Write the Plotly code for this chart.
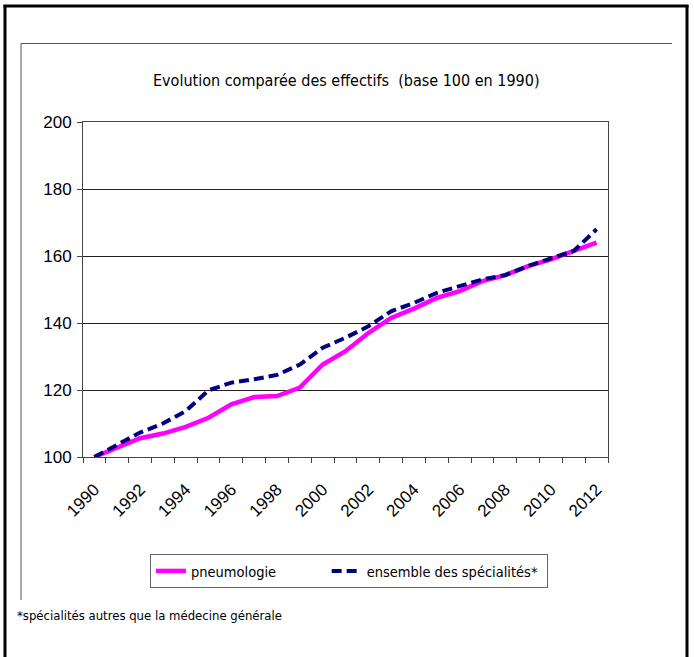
import plotly.graph_objects as go

# Index values, base 100 in 1990
years = list(range(1990, 2013))
pneumologie = [100.0, 102.8, 105.6, 107.0, 109.0, 111.7, 115.7, 117.9, 118.2, 120.7,
               127.6, 131.6, 137.0, 141.5, 144.3, 147.5, 149.5, 152.5, 154.3, 157.0,
               159.0, 161.5, 164.0]
ensemble = [100.0, 103.8, 107.3, 110.0, 113.7, 119.9, 122.2, 123.2, 124.5, 127.6,
            132.6, 135.6, 139.0, 143.5, 146.0, 149.0, 151.0, 153.0, 154.3, 157.0,
            159.3, 161.5, 168.0]
label_years = [y for y in years if y % 2 == 0]
y_ticks = [100, 120, 140, 160, 180, 200]

W, H = 694, 657
ML, MR, MT, MB = 83, 86, 122, 200
PW, PH = W - ML - MR, H - MT - MB

NARROW = "DejaVu Sans Condensed, Liberation Sans, Arial, sans-serif"
REG = "Liberation Sans, Arial, sans-serif"


def px(x):
    return (x - ML) / PW


def py(y):
    return (H - MB - y) / PH


# trailing non-breaking spaces widen the gap between the two legend entries
GAP = "\u00a0" * 11

fig = go.Figure()
fig.add_trace(go.Scatter(
    x=years, y=pneumologie, mode="lines", name="pneumologie" + GAP,
    line=dict(color="#FF00FF", width=4.5),
))
fig.add_trace(go.Scatter(
    x=years, y=ensemble, mode="lines", name="ensemble des spécialités*\u00a0",
    line=dict(color="#000080", width=4, dash="10px,5px"),
))

shapes = [
    # outer frame (left, top, right)
    dict(type="line", xref="paper", yref="paper", x0=px(5), x1=px(5), y0=py(5), y1=py(H + 5),
         line=dict(color="black", width=3)),
    dict(type="line", xref="paper", yref="paper", x0=px(3.5), x1=px(688.5), y0=py(6), y1=py(6),
         line=dict(color="black", width=3)),
    dict(type="line", xref="paper", yref="paper", x0=px(687), x1=px(687), y0=py(5), y1=py(H + 5),
         line=dict(color="black", width=3)),
    # chart area frame (top, left)
    dict(type="line", xref="paper", yref="paper", x0=px(21), x1=px(672), y0=py(43.5), y1=py(43.5),
         line=dict(color="#555555", width=1)),
    dict(type="line", xref="paper", yref="paper", x0=px(21), x1=px(21), y0=py(43.5), y1=py(600),
         line=dict(color="#555555", width=1)),
]

annotations = [
    dict(text="Evolution comparée des effectifs  (base 100 en 1990)", xref="paper", yref="paper",
         x=px(346), y=py(80), xanchor="center", yanchor="middle", showarrow=False,
         font=dict(family=NARROW, size=16, color="black")),
    dict(text="*spécialités autres que la médecine générale", xref="paper", yref="paper",
         x=px(15), y=py(615), xanchor="left", yanchor="middle", showarrow=False,
         font=dict(family=NARROW, size=13, color="black")),
]

fig.update_layout(
    width=W, height=H, autosize=False,
    margin=dict(l=ML, r=MR, t=MT, b=MB, pad=0),
    paper_bgcolor="white", plot_bgcolor="white",
    shapes=shapes, annotations=annotations,
    showlegend=True,
    legend=dict(
        orientation="h", x=px(349), xanchor="center", y=py(554), yanchor="top",
        bordercolor="#666666", borderwidth=1, bgcolor="white",
        font=dict(family=NARROW, size=14.5, color="black"),
        itemwidth=30, tracegroupgap=0,
    ),
    xaxis=dict(
        range=[1989.5, 2012.5], tickmode="array", tickvals=label_years,
        ticktext=[str(y) for y in label_years], tickangle=-45, ticks="",
        tickfont=dict(family=REG, size=17, color="black"), ticklabelstandoff=15,
        showline=True, linecolor="#444444", linewidth=1, mirror=True,
        showgrid=False, zeroline=False,
        minor=dict(tick0=1989.5, dtick=1, ticks="outside", ticklen=5,
                   tickcolor="#444444", tickwidth=1, showgrid=False),
    ),
    yaxis=dict(
        range=[100, 200], tickmode="array", tickvals=y_ticks,
        ticks="outside", ticklen=5, tickcolor="#444444",
        tickfont=dict(family=REG, size=17, color="black"), ticklabelstandoff=2,
        showline=True, linecolor="#444444", linewidth=1, mirror=True,
        showgrid=True, gridcolor="#222222", gridwidth=1, zeroline=False,
    ),
)

fig.write_html("out.html")
